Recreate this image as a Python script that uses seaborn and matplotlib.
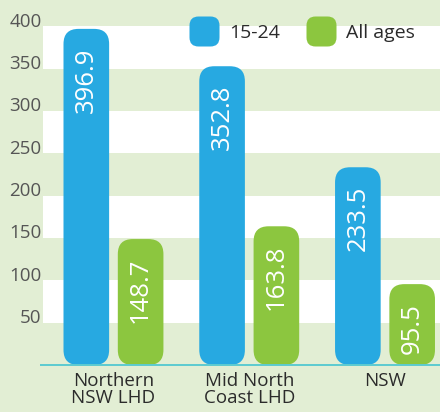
import matplotlib
matplotlib.use("Agg")
import matplotlib.pyplot as plt
import matplotlib.transforms as mtransforms
from matplotlib.patches import FancyBboxPatch, BoxStyle
from matplotlib.lines import Line2D
import seaborn as sns
import pandas as pd

categories = ["Northern\nNSW LHD", "Mid North\nCoast LHD", "NSW"]
series_names = ["15-24", "All ages"]
values_1524 = [396.9, 352.8, 233.5]
values_all = [148.7, 163.8, 95.5]
yticks = [50, 100, 150, 200, 250, 300, 350, 400]

BLUE = "#27a9e1"
GREEN = "#8cc63f"
BG = "#e2eed4"

df = pd.DataFrame({
    "region": categories * 2,
    "group": [series_names[0]] * 3 + [series_names[1]] * 3,
    "value": values_1524 + values_all,
})

sns.set_theme(style="white")
plt.rcParams["font.family"] = ["Open Sans", "DejaVu Sans"]

W, H = 440, 412
fig = plt.figure(figsize=(W / 100, H / 100), dpi=100, facecolor=BG)
ax_left, ax_right, ax_top, ax_bottom = 43, 440, 0, 365
ax = fig.add_axes([ax_left / W, (H - ax_bottom) / H, (ax_right - ax_left) / W, (ax_bottom - ax_top) / H])
ax.set_facecolor(BG)

sns.barplot(data=df, x="region", y="value", hue="group", order=categories,
            hue_order=series_names, palette=[BLUE, GREEN], width=0.8, gap=0.16,
            saturation=1, legend=False, ax=ax, zorder=3)
bars = list(ax.patches)

xmin, xmax = -0.519, 2.405
ymax = 431
ax.set_xlim(xmin, xmax)
ax.set_ylim(0, ymax)

# rounded bars
px_per_x = (ax_right - ax_left) / (xmax - xmin)
px_per_y = (ax_bottom - ax_top) / ymax
aspect = px_per_x / px_per_y
r = 15 / px_per_x
for p in bars:
    x, y = p.get_x(), p.get_y()
    w, h = p.get_width(), p.get_height()
    fc = p.get_facecolor()
    p.remove()
    fb = FancyBboxPatch((x, y), w, h, boxstyle=f"round,pad=0,rounding_size={r}",
                        mutation_aspect=aspect, fc=fc, ec="none", zorder=3)
    ax.add_patch(fb)
    ax.text(x + w / 2, h - 22, f"{h:.1f}", rotation=90, ha="center", va="top",
            color="white", fontsize=18.5, zorder=4)

# white bands
for lo in [50, 150, 250, 350]:
    ax.axhspan(lo, lo + 50, color="white", zorder=0, lw=0)

# baseline
ax.plot([-3 / px_per_x + xmin, xmax], [0, 0], color="#5ccbd0", lw=1.4,
        clip_on=False, zorder=5, solid_capstyle="butt")

for s in ax.spines.values():
    s.set_visible(False)

ax.set_yticks(yticks)
ax.set_yticklabels([str(t) for t in yticks])
ax.tick_params(axis="y", length=0, pad=1, labelsize=13.5, labelcolor="#555555")
ax.tick_params(axis="x", length=0, pad=5, labelsize=13.5, labelcolor="#2b2b2b")
off = mtransforms.ScaledTranslation(0, 6.5 / 100, fig.dpi_scale_trans)
for lab in ax.get_yticklabels():
    lab.set_transform(lab.get_transform() + off)
for lab in ax.get_xticklabels():
    lab.set_linespacing(0.95)
ax.set_xlabel("")
ax.set_ylabel("")

# legend with rounded-square markers
sq = BoxStyle.Round(pad=0, rounding_size=0.3)(-0.5, -0.5, 1, 1, 1.0)
handles = [Line2D([], [], ls="none", marker=sq, markersize=21.6, color=c, mec="none")
           for c in (BLUE, GREEN)]
ax.legend(handles, series_names, loc="center", ncol=2, frameon=False,
          bbox_to_anchor=(302 / W, 1 - 33 / H), bbox_transform=fig.transFigure,
          fontsize=14, labelcolor="#2b2b2b", handlelength=1.5, handletextpad=0.55,
          columnspacing=1.35, borderpad=0, borderaxespad=0)

fig.savefig("out.png", dpi=100, facecolor=BG)
